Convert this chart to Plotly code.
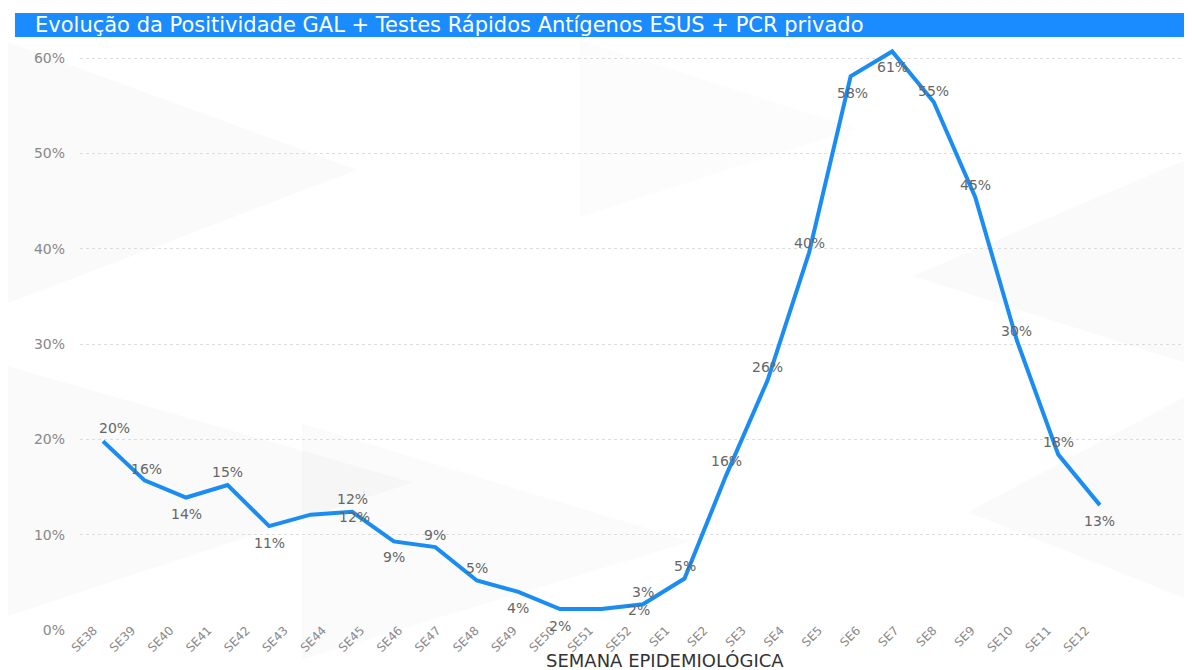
import plotly.graph_objects as go

# ---- data ----
all_weeks = ["SE38", "SE39", "SE40", "SE41", "SE42", "SE43", "SE44", "SE45", "SE46",
             "SE47", "SE48", "SE49", "SE50", "SE51", "SE52", "SE1", "SE2", "SE3", "SE4",
             "SE5", "SE6", "SE7", "SE8", "SE9", "SE10", "SE11", "SE12"]
line_weeks = all_weeks[:25]
positivity = [19.8, 15.7, 13.9, 15.2, 10.9, 12.1, 12.4, 9.3, 8.7, 5.2, 4.0, 2.2, 2.2,
              2.7, 5.4, 16.2, 26.2, 39.6, 58.1, 60.7, 55.4, 45.4, 30.4, 18.4, 13.1]
y_ticks = [0, 10, 20, 30, 40, 50, 60]
y_tick_text = ["0%", "10%", "20%", "30%", "40%", "50%", "60%"]

# label placement (styling, px)
label_xshift = [11, 2, 0, 0, 0, 42, 2, 0, 0, 0, 0, 0, 38, 0, 0, 0, 0, 0, 2, 0, 0, 0, 0, 0, 0]
label_yshift = [13, 11, -16, 13, -17, 16, -5, -16, 12, 12, -16, -17, -1, 12, 13, 15, 13, 10,
                -17, -16, 11, 12, 9, 13, -16]

FONT = "DejaVu Sans"
BLUE = "#1a8cf2"

fig = go.Figure()

# invisible trace registering the full week axis
fig.add_trace(go.Scatter(x=all_weeks, y=[0] * len(all_weeks), xaxis="x2", mode="markers",
                         marker=dict(opacity=0), hoverinfo="skip", showlegend=False))

fig.add_trace(go.Scatter(x=line_weeks, y=positivity, mode="lines",
                         line=dict(color=BLUE, width=4), showlegend=False,
                         hovertemplate="%{x}: %{y:.1f}%<extra></extra>"))

annotations = []
for wk, v, dx, dy in zip(line_weeks, positivity, label_xshift, label_yshift):
    annotations.append(dict(x=wk, y=v, xref="x", yref="y", text=f"{round(v)}%",
                            showarrow=False, xshift=dx, yshift=dy,
                            font=dict(family=FONT, size=14, color="#666666")))

# title text
annotations.append(dict(x=-0.0423, y=1.0254, xref="paper", yref="paper", xanchor="left",
                        yanchor="middle", showarrow=False,
                        text="Evolução da Positividade GAL + Testes Rápidos Antígenos ESUS + PCR privado",
                        font=dict(family=FONT, size=21, color="#ffffff")))
# x-axis title
annotations.append(dict(x=0.527, y=-0.0525, xref="paper", yref="paper", xanchor="center",
                        yanchor="middle", showarrow=False, text="SEMANA EPIDEMIOLÓGICA",
                        font=dict(family=FONT, size=18, color="#333333")))

FACET = "rgba(0,0,0,0.02)"
shapes = [
    # faint geometric background facets
    dict(type="path", xref="paper", yref="paper", layer="below",
         path="M -0.07,1.0 L 0.25,0.78 L -0.07,0.55 Z", fillcolor=FACET, line=dict(width=0)),
    dict(type="path", xref="paper", yref="paper", layer="below",
         path="M -0.07,0.45 L 0.3,0.25 L -0.07,0.02 Z", fillcolor=FACET, line=dict(width=0)),
    dict(type="path", xref="paper", yref="paper", layer="below",
         path="M 0.2,0.35 L 0.55,0.15 L 0.2,-0.05 Z", fillcolor="rgba(0,0,0,0.015)", line=dict(width=0)),
    dict(type="path", xref="paper", yref="paper", layer="below",
         path="M 0.75,0.6 L 1.0,0.45 L 1.0,0.8 Z", fillcolor=FACET, line=dict(width=0)),
    dict(type="path", xref="paper", yref="paper", layer="below",
         path="M 0.8,0.2 L 1.0,0.05 L 1.0,0.4 Z", fillcolor=FACET, line=dict(width=0)),
    dict(type="path", xref="paper", yref="paper", layer="below",
         path="M 0.45,1.0 L 0.7,0.85 L 0.45,0.7 Z", fillcolor="rgba(0,0,0,0.012)", line=dict(width=0)),
    # title band
    dict(type="rect", xref="paper", yref="paper", x0=-0.0586, x1=1.01, y0=1.0051, y1=1.0458,
         fillcolor="#1a8cff", line=dict(width=0), layer="above"),
]

fig.update_layout(
    width=1184, height=662,
    margin=dict(l=72, r=2, t=32, b=40),
    paper_bgcolor="#ffffff", plot_bgcolor="rgba(0,0,0,0)",
    font=dict(family=FONT, color="#888888"),
    xaxis=dict(type="category", visible=False, range=[-0.554, 26.17], fixedrange=True),
    xaxis2=dict(type="category", overlaying="x", side="bottom", range=[-0.36, 28.73],
                categoryorder="array", categoryarray=all_weeks,
                tickangle=-45, showgrid=False, zeroline=False, showline=False,
                ticks="", ticklabelstandoff=-10,
                tickfont=dict(family=FONT, size=12, color="#888888"),
                automargin=False),
    yaxis=dict(range=[0, 61.9], tickvals=y_ticks, ticktext=y_tick_text,
               showgrid=True, gridcolor="#dddddd", griddash="dot", gridwidth=1,
               zeroline=False, showline=False, ticks="", ticklabelstandoff=14,
               tickfont=dict(family=FONT, size=14, color="#888888"), automargin=False),
    annotations=annotations,
    shapes=shapes,
)

fig.write_html("out.html")
